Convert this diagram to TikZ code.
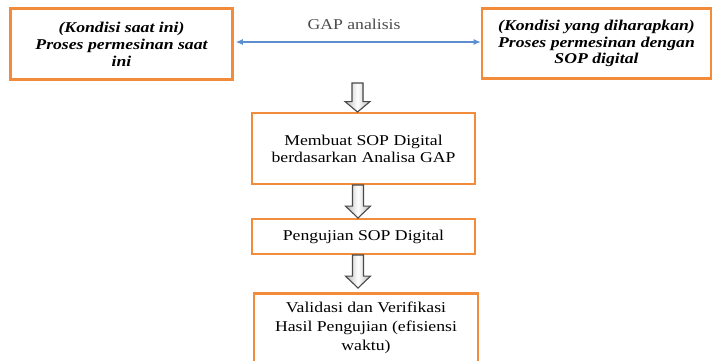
\documentclass[tikz,border=0pt]{standalone}
\usepackage{fontspec}
\setmainfont[FakeStretch=1.18]{Liberation Serif}
\usetikzlibrary{arrows.meta}
\definecolor{boxorange}{HTML}{F28C3A}
\definecolor{linkblue}{HTML}{5B8FD0}
\definecolor{arrowedge}{HTML}{4A4A4A}
\begin{document}
\begin{tikzpicture}[x=1pt,y=-1pt,
  stepbox/.style={draw=boxorange, line width=2.6pt, fill=white, align=center,
    inner sep=0pt, font=\fontsize{15}{17}\selectfont},
  topbox/.style={stepbox, font=\fontsize{15}{16.8}\selectfont\bfseries\itshape},
  blockarrow/.style={draw=arrowedge, line width=1.1pt, line join=miter,
    left color=gray!55, right color=gray!55, middle color=white}]
\useasboundingbox (0,0) rectangle (715,360);
\clip (0,0) rectangle (715,360);

% top row: current and expected condition
\node[topbox, minimum width=222pt, minimum height=71pt] (now) at (121.5,44)
  {(Kondisi saat ini)\\Proses permesinan saat\\ini};
\node[topbox, minimum width=229pt, minimum height=70pt] (goal) at (596.5,43.5)
  {(Kondisi yang diharapkan)\\Proses permesinan dengan\\SOP digital};

% gap analysis link
\draw[linkblue, line width=1.1pt, {Latex[length=7pt,width=6pt]}-{Latex[length=7pt,width=6pt]}]
  (now.east) ++(2,-2) coordinate (ga) -- (ga -| goal.west) coordinate (gb);
\node[text=black!70, font=\fontsize{15}{17}\selectfont] (gap) at (354,24) {GAP analisis};

% process steps
\node[stepbox, minimum width=223pt, minimum height=71pt] (make) at (363.5,148.5)
  {Membuat SOP Digital\\berdasarkan Analisa GAP};
\node[stepbox, minimum width=223pt, minimum height=35pt] (test) at (363.5,236.5)
  {Pengujian SOP Digital};
\node[stepbox, minimum width=224pt, minimum height=70pt, anchor=north,
  font=\fontsize{15}{19}\selectfont] (valid) at (366,292)
  {Validasi dan Verifikasi\\Hasil Pengujian (efisiensi\\waktu)};

% block arrows between the stages
\newcommand{\stagearrow}[3]{%
  \filldraw[blockarrow] (#1-5.5,#2) -- (#1+5.5,#2) -- (#1+5.5,#2+0.64*#3)
    -- (#1+12.5,#2+0.64*#3) -- (#1,#2+#3) -- (#1-12.5,#2+0.64*#3)
    -- (#1-5.5,#2+0.64*#3) -- cycle;}
\stagearrow{357.5}{83}{29}
\stagearrow{358}{185}{33}
\stagearrow{358}{255}{33}
\end{tikzpicture}
\end{document}
